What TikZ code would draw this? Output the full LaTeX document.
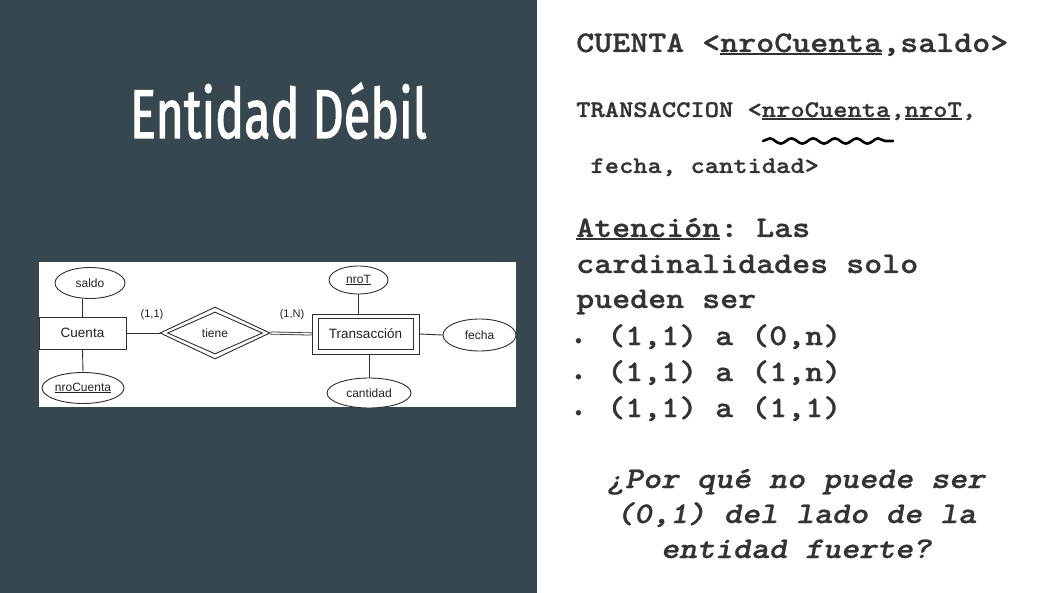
\documentclass[tikz,border=0pt]{standalone}
\usepackage{fontspec}
\usepackage{graphicx}
\setmainfont{Liberation Serif}
\newfontfamily\erfont{Liberation Sans}
\newfontfamily\titlefont{Fira Sans}[FakeBold=2]
\newfontfamily\slab{lmmonolt10-bold}[Extension=.otf, ItalicFont=lmmonolt10-boldoblique, FakeBold=0.8]
\usetikzlibrary{shapes.geometric,decorations.pathmorphing}

\definecolor{slate}{HTML}{37474F}
\definecolor{ink}{HTML}{333333}
\definecolor{erline}{HTML}{2E2E2E}
\definecolor{erink}{HTML}{222222}

% underline drawn as a rule just below the baseline
\newcommand\myul[1]{\setbox0=\hbox{#1}\rlap{\rule[-0.11em]{\wd0}{0.07em}}\box0}
% typewriter text widened to a 0.6em character pitch
\newcommand\wide[1]{\scalebox{1.143}[1]{\frenchspacing #1}}

\tikzset{
  entity/.style={draw=erline, line width=0.9pt, fill=white, inner sep=0pt,
    text=erink, font=\erfont\fontsize{13.5}{14}\selectfont},
  rel/.style={diamond, draw=erline, line width=0.9pt, fill=white, inner sep=0pt,
    text=erink, font=\erfont\fontsize{12}{13}\selectfont},
  attr/.style={ellipse, draw=erline, line width=0.9pt, fill=white, inner sep=0pt,
    text=erink, font=\erfont\fontsize{12}{13}\selectfont},
  card/.style={inner sep=0pt, text=erink, font=\erfont\fontsize{11}{12}\selectfont},
  link/.style={draw=erline, line width=0.9pt},
  mono/.style={anchor=base west, inner sep=0pt, text=ink,
    font=\slab\fontsize{30}{36}\selectfont},
  monosmall/.style={mono, font=\slab\fontsize{23.8}{28}\selectfont},
  question/.style={anchor=base, inner sep=0pt, text=ink,
    font=\slab\itshape\fontsize{30}{36}\selectfont},
  bulletmark/.style={anchor=base west, inner sep=0pt, text=ink,
    font=\slab\fontsize{18}{18}\selectfont},
}

\begin{document}
\begin{tikzpicture}[x=1pt,y=-1pt]
\useasboundingbox (0,0) rectangle (1051,593);
\fill[white] (0,0) rectangle (1051,593);
\fill[slate] (0,0) rectangle (537,593);

% title
\node[anchor=base, inner sep=0pt, text=white] (title) at (278.5,138)
  {\resizebox{297pt}{\height}{\titlefont\fontsize{69}{69}\selectfont Entidad Débil}};

% ER diagram panel
\fill[white] (39,262) rectangle (516,407);
\begin{scope}
\clip (39,262) rectangle (516,407);

\node[entity, minimum width=87pt, minimum height=32pt] (cuenta) at (82.5,333) {Cuenta};
\node[entity, minimum width=107pt, minimum height=40pt] (transouter) at (365.5,334) {};
\node[entity, minimum width=95pt, minimum height=31pt] (trans) at (365.5,334) {Transacción};
\node[rel, minimum width=110pt, minimum height=52pt] (tieneouter) at (215,333) {};
\node[rel, minimum width=95pt, minimum height=42pt] (tiene) at (215,333) {tiene};

\node[attr, minimum width=70pt, minimum height=31pt] (saldo) at (90,283) {saldo};
\node[attr, minimum width=82pt, minimum height=31pt] (nrocuenta) at (83,388) {\underline{nroCuenta}};
\node[attr, minimum width=59pt, minimum height=28pt] (nrot) at (358.5,280) {\underline{nroT}};
\node[attr, minimum width=73pt, minimum height=32pt] (fecha) at (479.5,335) {fecha};
\node[attr, minimum width=84pt, minimum height=30pt] (cantidad) at (369,393) {cantidad};

\node[card] (c11) at (152,315) {(1,1)};
\node[card] (c1n) at (292,315) {(1,N)};

\draw[link] (cuenta.north) -- (cuenta.north |- saldo.south);
\draw[link] (cuenta.south) -- (nrocuenta.north);
\draw[link] (cuenta.east) -- (tieneouter.west);
\draw[link, double, line width=0.8pt, double distance=1.4pt] (tieneouter.east) -- (transouter.west);
\draw[link] (nrot.south) -- (nrot.south |- transouter.north);
\draw[link] (cantidad.north) -- (cantidad.north |- transouter.south);
\draw[link] (transouter.east) -- (fecha.west);
\end{scope}

% relational schema
\node[mono] (rel1) at (576,52) {\wide{CUENTA <\myul{nroCuenta},saldo>}};
\node[monosmall] (rel2) at (576,117) {\wide{TRANSACCION <\myul{nroCuenta},\myul{nroT},}};
\node[monosmall] (rel3) at (576,173) {\wide{\ fecha, cantidad>}};
\draw[line width=2.6pt, line cap=round, black,
      decorate, decoration={snake, segment length=21.7pt, amplitude=2.6pt}]
  (763,141) -- (893,141);

% note on cardinalities
\node[mono] (note1) at (576,237) {\wide{\myul{Atención}: Las}};
\node[mono] (note2) at (576,273) {\wide{cardinalidades solo}};
\node[mono] (note3) at (576,308) {\wide{pueden ser}};
\node[bulletmark] (b1) at (573.5,345) {•};
\node[mono] (opt1) at (607,345) {\wide{(1,1) a (0,n)}};
\node[bulletmark] (b2) at (573.5,381) {•};
\node[mono] (opt2) at (607,381) {\wide{(1,1) a (1,n)}};
\node[bulletmark] (b3) at (573.5,417) {•};
\node[mono] (opt3) at (607,417) {\wide{(1,1) a (1,1)}};

% closing question
\node[question] (q1) at (796,488) {\wide{¿Por qué no puede ser}};
\node[question] (q2) at (796,523) {\wide{(0,1) del lado de la}};
\node[question] (q3) at (796,558) {\wide{entidad fuerte?}};
\end{tikzpicture}
\end{document}
